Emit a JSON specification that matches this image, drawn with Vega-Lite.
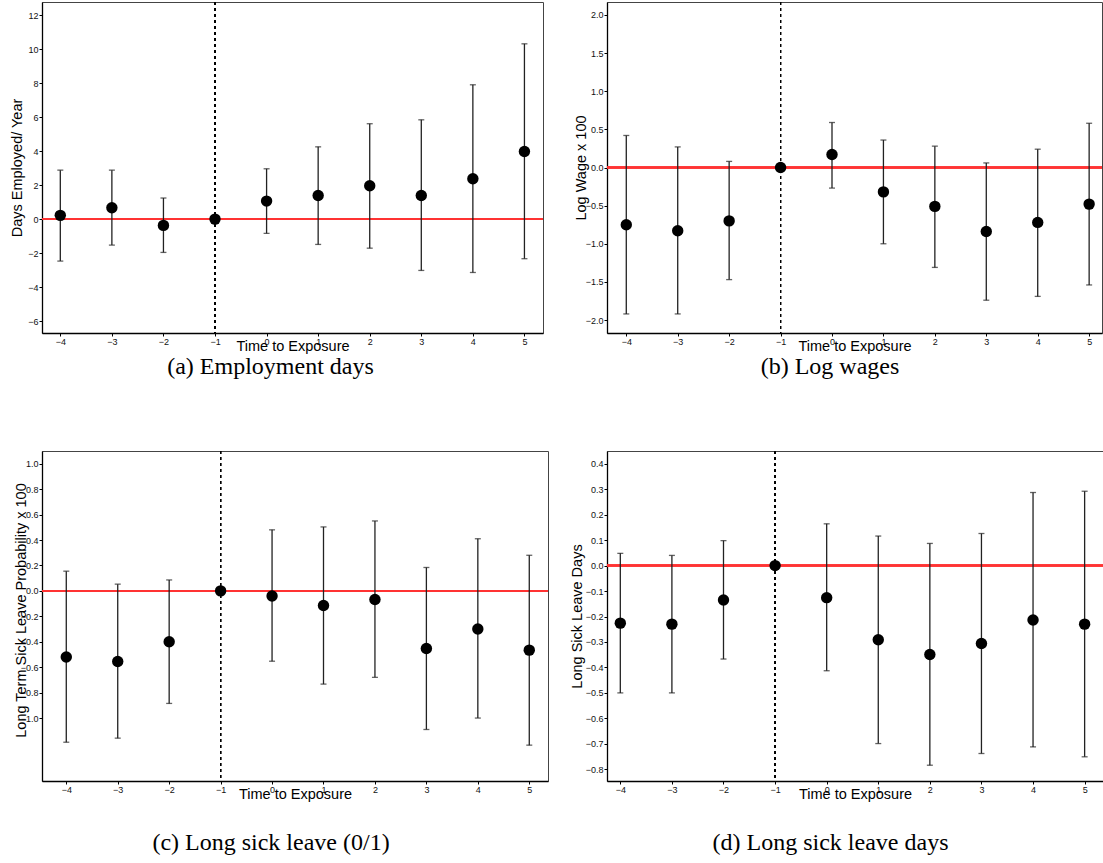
{
  "$schema": "https://vega.github.io/schema/vega-lite/v6.json",
  "padding": {"left": 8, "top": 1, "right": 0, "bottom": 0},
  "background": "white",
  "datasets": {
    "est": [
      {"panel": "a", "t": -4, "est": 0.22, "lo": -2.47, "hi": 2.88},
      {"panel": "a", "t": -3, "est": 0.67, "lo": -1.53, "hi": 2.88},
      {"panel": "a", "t": -2, "est": -0.37, "lo": -1.96, "hi": 1.24},
      {"panel": "a", "t": -1, "est": 0, "lo": 0, "hi": 0},
      {"panel": "a", "t": 0, "est": 1.06, "lo": -0.84, "hi": 2.96},
      {"panel": "a", "t": 1, "est": 1.39, "lo": -1.49, "hi": 4.25},
      {"panel": "a", "t": 2, "est": 1.96, "lo": -1.71, "hi": 5.61},
      {"panel": "a", "t": 3, "est": 1.39, "lo": -3.02, "hi": 5.84},
      {"panel": "a", "t": 4, "est": 2.37, "lo": -3.14, "hi": 7.9},
      {"panel": "a", "t": 5, "est": 3.98, "lo": -2.33, "hi": 10.31},
      {"panel": "b", "t": -4, "est": -0.75, "lo": -1.92, "hi": 0.42},
      {"panel": "b", "t": -3, "est": -0.83, "lo": -1.92, "hi": 0.27},
      {"panel": "b", "t": -2, "est": -0.7, "lo": -1.47, "hi": 0.08},
      {"panel": "b", "t": -1, "est": 0, "lo": 0, "hi": 0},
      {"panel": "b", "t": 0, "est": 0.17, "lo": -0.27, "hi": 0.59},
      {"panel": "b", "t": 1, "est": -0.32, "lo": -1.0, "hi": 0.36},
      {"panel": "b", "t": 2, "est": -0.51, "lo": -1.31, "hi": 0.28},
      {"panel": "b", "t": 3, "est": -0.84, "lo": -1.74, "hi": 0.06},
      {"panel": "b", "t": 4, "est": -0.72, "lo": -1.69, "hi": 0.24},
      {"panel": "b", "t": 5, "est": -0.48, "lo": -1.54, "hi": 0.58},
      {"panel": "c", "t": -4, "est": -0.52, "lo": -1.19, "hi": 0.155},
      {"panel": "c", "t": -3, "est": -0.555, "lo": -1.158, "hi": 0.053},
      {"panel": "c", "t": -2, "est": -0.4, "lo": -0.885, "hi": 0.086},
      {"panel": "c", "t": -1, "est": 0, "lo": 0, "hi": 0},
      {"panel": "c", "t": 0, "est": -0.04, "lo": -0.553, "hi": 0.48},
      {"panel": "c", "t": 1, "est": -0.115, "lo": -0.733, "hi": 0.503},
      {"panel": "c", "t": 2, "est": -0.068, "lo": -0.68, "hi": 0.55},
      {"panel": "c", "t": 3, "est": -0.453, "lo": -1.09, "hi": 0.184},
      {"panel": "c", "t": 4, "est": -0.3, "lo": -1.0, "hi": 0.41},
      {"panel": "c", "t": 5, "est": -0.466, "lo": -1.213, "hi": 0.28},
      {"panel": "d", "t": -4, "est": -0.226, "lo": -0.5, "hi": 0.048},
      {"panel": "d", "t": -3, "est": -0.23, "lo": -0.5, "hi": 0.04},
      {"panel": "d", "t": -2, "est": -0.135, "lo": -0.367, "hi": 0.098},
      {"panel": "d", "t": -1, "est": 0, "lo": 0, "hi": 0},
      {"panel": "d", "t": 0, "est": -0.126, "lo": -0.413, "hi": 0.164},
      {"panel": "d", "t": 1, "est": -0.291, "lo": -0.699, "hi": 0.116},
      {"panel": "d", "t": 2, "est": -0.349, "lo": -0.784, "hi": 0.087},
      {"panel": "d", "t": 3, "est": -0.306, "lo": -0.738, "hi": 0.126},
      {"panel": "d", "t": 4, "est": -0.214, "lo": -0.712, "hi": 0.287},
      {"panel": "d", "t": 5, "est": -0.23, "lo": -0.751, "hi": 0.292}
    ]
  },
  "columns": 2,
  "bounds": "flush",
  "spacing": {"row": 118, "column": 59},
  "concat": [
    {
      "width": 501, "height": 331,
      "title": {"text": "(a) Employment days", "dx": -22, "offset": 2},
      "data": {"name": "est"},
      "transform": [{"filter": "datum.panel == 'a'"}],
      "layer": [
        {"mark": {"type": "rule", "color": "#ff3333", "strokeWidth": 1.5},
         "encoding": {"y": {"datum": 0, "type": "quantitative", "scale": {"domain": [-6.7, 12.77], "nice": false, "zero": false}, "axis": {"values": [-6, -4, -2, 0, 2, 4, 6, 8, 10, 12], "format": "d", "title": "Days Employed/ Year", "titleX": -18}}}},
        {"mark": {"type": "rule", "color": "#000", "strokeWidth": 0.9, "strokeDash": [3, 3]},
         "encoding": {"x": {"datum": -1, "type": "quantitative", "scale": {"domain": [-4.355, 5.36], "nice": false, "zero": false}, "axis": {"values": [-4, -3, -2, -1, 0, 1, 2, 3, 4, 5], "format": "d", "title": "Time to Exposure", "titleY": 17.5, "titleBaseline": "alphabetic"}}}},
        {"mark": {"type": "rule", "color": "#222", "strokeWidth": 1.3},
         "encoding": {
           "x": {"field": "t", "type": "quantitative", "scale": {"domain": [-4.355, 5.36], "nice": false, "zero": false}, "axis": {"values": [-4, -3, -2, -1, 0, 1, 2, 3, 4, 5], "format": "d", "title": "Time to Exposure", "titleY": 17.5, "titleBaseline": "alphabetic"}},
           "y": {"field": "lo", "type": "quantitative", "scale": {"domain": [-6.7, 12.77], "nice": false, "zero": false}, "axis": {"values": [-6, -4, -2, 0, 2, 4, 6, 8, 10, 12], "format": "d", "title": "Days Employed/ Year", "titleX": -18}},
           "y2": {"field": "hi"}}},
        {"mark": {"type": "tick", "orient": "horizontal", "color": "#222", "size": 6, "thickness": 1.3},
         "encoding": {
           "x": {"field": "t", "type": "quantitative", "scale": {"domain": [-4.355, 5.36], "nice": false, "zero": false}, "axis": {"values": [-4, -3, -2, -1, 0, 1, 2, 3, 4, 5], "format": "d", "title": "Time to Exposure", "titleY": 17.5, "titleBaseline": "alphabetic"}},
           "y": {"field": "lo", "type": "quantitative", "scale": {"domain": [-6.7, 12.77], "nice": false, "zero": false}, "axis": {"values": [-6, -4, -2, 0, 2, 4, 6, 8, 10, 12], "format": "d", "title": "Days Employed/ Year", "titleX": -18}}}},
        {"mark": {"type": "tick", "orient": "horizontal", "color": "#222", "size": 6, "thickness": 1.3},
         "encoding": {
           "x": {"field": "t", "type": "quantitative", "scale": {"domain": [-4.355, 5.36], "nice": false, "zero": false}, "axis": {"values": [-4, -3, -2, -1, 0, 1, 2, 3, 4, 5], "format": "d", "title": "Time to Exposure", "titleY": 17.5, "titleBaseline": "alphabetic"}},
           "y": {"field": "hi", "type": "quantitative", "scale": {"domain": [-6.7, 12.77], "nice": false, "zero": false}, "axis": {"values": [-6, -4, -2, 0, 2, 4, 6, 8, 10, 12], "format": "d", "title": "Days Employed/ Year", "titleX": -18}}}},
        {"mark": {"type": "circle", "color": "#000", "opacity": 1, "size": 130},
         "encoding": {
           "x": {"field": "t", "type": "quantitative", "scale": {"domain": [-4.355, 5.36], "nice": false, "zero": false}, "axis": {"values": [-4, -3, -2, -1, 0, 1, 2, 3, 4, 5], "format": "d", "title": "Time to Exposure", "titleY": 17.5, "titleBaseline": "alphabetic"}},
           "y": {"field": "est", "type": "quantitative", "scale": {"domain": [-6.7, 12.77], "nice": false, "zero": false}, "axis": {"values": [-6, -4, -2, 0, 2, 4, 6, 8, 10, 12], "format": "d", "title": "Days Employed/ Year", "titleX": -18}}}}
      ]
    },
    {
      "width": 495, "height": 331,
      "title": {"text": "(b) Log wages", "dx": -24.5, "offset": 2},
      "data": {"name": "est"},
      "transform": [{"filter": "datum.panel == 'b'"}],
      "layer": [
        {"mark": {"type": "rule", "color": "#ff3333", "strokeWidth": 1.5},
         "encoding": {"y": {"datum": 0, "type": "quantitative", "scale": {"domain": [-2.17, 2.17], "nice": false, "zero": false}, "axis": {"values": [-2, -1.5, -1, -0.5, 0, 0.5, 1, 1.5, 2], "format": ".1f", "title": "Log Wage x 100", "titleX": -19}}}},
        {"mark": {"type": "rule", "color": "#000", "strokeWidth": 0.9, "strokeDash": [3, 3]},
         "encoding": {"x": {"datum": -1, "type": "quantitative", "scale": {"domain": [-4.375, 5.25], "nice": false, "zero": false}, "axis": {"values": [-4, -3, -2, -1, 0, 1, 2, 3, 4, 5], "format": "d", "title": "Time to Exposure", "titleY": 17.5, "titleBaseline": "alphabetic"}}}},
        {"mark": {"type": "rule", "color": "#222", "strokeWidth": 1.3},
         "encoding": {
           "x": {"field": "t", "type": "quantitative", "scale": {"domain": [-4.375, 5.25], "nice": false, "zero": false}, "axis": {"values": [-4, -3, -2, -1, 0, 1, 2, 3, 4, 5], "format": "d", "title": "Time to Exposure", "titleY": 17.5, "titleBaseline": "alphabetic"}},
           "y": {"field": "lo", "type": "quantitative", "scale": {"domain": [-2.17, 2.17], "nice": false, "zero": false}, "axis": {"values": [-2, -1.5, -1, -0.5, 0, 0.5, 1, 1.5, 2], "format": ".1f", "title": "Log Wage x 100", "titleX": -19}},
           "y2": {"field": "hi"}}},
        {"mark": {"type": "tick", "orient": "horizontal", "color": "#222", "size": 6, "thickness": 1.3},
         "encoding": {
           "x": {"field": "t", "type": "quantitative", "scale": {"domain": [-4.375, 5.25], "nice": false, "zero": false}, "axis": {"values": [-4, -3, -2, -1, 0, 1, 2, 3, 4, 5], "format": "d", "title": "Time to Exposure", "titleY": 17.5, "titleBaseline": "alphabetic"}},
           "y": {"field": "lo", "type": "quantitative", "scale": {"domain": [-2.17, 2.17], "nice": false, "zero": false}, "axis": {"values": [-2, -1.5, -1, -0.5, 0, 0.5, 1, 1.5, 2], "format": ".1f", "title": "Log Wage x 100", "titleX": -19}}}},
        {"mark": {"type": "tick", "orient": "horizontal", "color": "#222", "size": 6, "thickness": 1.3},
         "encoding": {
           "x": {"field": "t", "type": "quantitative", "scale": {"domain": [-4.375, 5.25], "nice": false, "zero": false}, "axis": {"values": [-4, -3, -2, -1, 0, 1, 2, 3, 4, 5], "format": "d", "title": "Time to Exposure", "titleY": 17.5, "titleBaseline": "alphabetic"}},
           "y": {"field": "hi", "type": "quantitative", "scale": {"domain": [-2.17, 2.17], "nice": false, "zero": false}, "axis": {"values": [-2, -1.5, -1, -0.5, 0, 0.5, 1, 1.5, 2], "format": ".1f", "title": "Log Wage x 100", "titleX": -19}}}},
        {"mark": {"type": "circle", "color": "#000", "opacity": 1, "size": 130},
         "encoding": {
           "x": {"field": "t", "type": "quantitative", "scale": {"domain": [-4.375, 5.25], "nice": false, "zero": false}, "axis": {"values": [-4, -3, -2, -1, 0, 1, 2, 3, 4, 5], "format": "d", "title": "Time to Exposure", "titleY": 17.5, "titleBaseline": "alphabetic"}},
           "y": {"field": "est", "type": "quantitative", "scale": {"domain": [-2.17, 2.17], "nice": false, "zero": false}, "axis": {"values": [-2, -1.5, -1, -0.5, 0, 0.5, 1, 1.5, 2], "format": ".1f", "title": "Log Wage x 100", "titleX": -19}}}}
      ]
    },
    {
      "width": 506, "height": 330,
      "title": {"text": "(c) Long sick leave (0/1)", "dx": -24, "offset": 30},
      "data": {"name": "est"},
      "transform": [{"filter": "datum.panel == 'c'"}],
      "layer": [
        {"mark": {"type": "rule", "color": "#ff3333", "strokeWidth": 1.5},
         "encoding": {"y": {"datum": 0, "type": "quantitative", "scale": {"domain": [-1.495, 1.1], "nice": false, "zero": false}, "axis": {"values": [-1, -0.8, -0.6, -0.4, -0.2, 0, 0.2, 0.4, 0.6, 0.8, 1], "format": ".1f", "title": "Long Term Sick Leave Probability x 100", "titleX": -14, "titleY": 159}}}},
        {"mark": {"type": "rule", "color": "#000", "strokeWidth": 0.9, "strokeDash": [3, 3]},
         "encoding": {"x": {"datum": -1, "type": "quantitative", "scale": {"domain": [-4.472, 5.364], "nice": false, "zero": false}, "axis": {"values": [-4, -3, -2, -1, 0, 1, 2, 3, 4, 5], "format": "d", "title": "Time to Exposure", "titleY": 17.5, "titleBaseline": "alphabetic"}}}},
        {"mark": {"type": "rule", "color": "#222", "strokeWidth": 1.3},
         "encoding": {
           "x": {"field": "t", "type": "quantitative", "scale": {"domain": [-4.472, 5.364], "nice": false, "zero": false}, "axis": {"values": [-4, -3, -2, -1, 0, 1, 2, 3, 4, 5], "format": "d", "title": "Time to Exposure", "titleY": 17.5, "titleBaseline": "alphabetic"}},
           "y": {"field": "lo", "type": "quantitative", "scale": {"domain": [-1.495, 1.1], "nice": false, "zero": false}, "axis": {"values": [-1, -0.8, -0.6, -0.4, -0.2, 0, 0.2, 0.4, 0.6, 0.8, 1], "format": ".1f", "title": "Long Term Sick Leave Probability x 100", "titleX": -14, "titleY": 159}},
           "y2": {"field": "hi"}}},
        {"mark": {"type": "tick", "orient": "horizontal", "color": "#222", "size": 6, "thickness": 1.3},
         "encoding": {
           "x": {"field": "t", "type": "quantitative", "scale": {"domain": [-4.472, 5.364], "nice": false, "zero": false}, "axis": {"values": [-4, -3, -2, -1, 0, 1, 2, 3, 4, 5], "format": "d", "title": "Time to Exposure", "titleY": 17.5, "titleBaseline": "alphabetic"}},
           "y": {"field": "lo", "type": "quantitative", "scale": {"domain": [-1.495, 1.1], "nice": false, "zero": false}, "axis": {"values": [-1, -0.8, -0.6, -0.4, -0.2, 0, 0.2, 0.4, 0.6, 0.8, 1], "format": ".1f", "title": "Long Term Sick Leave Probability x 100", "titleX": -14, "titleY": 159}}}},
        {"mark": {"type": "tick", "orient": "horizontal", "color": "#222", "size": 6, "thickness": 1.3},
         "encoding": {
           "x": {"field": "t", "type": "quantitative", "scale": {"domain": [-4.472, 5.364], "nice": false, "zero": false}, "axis": {"values": [-4, -3, -2, -1, 0, 1, 2, 3, 4, 5], "format": "d", "title": "Time to Exposure", "titleY": 17.5, "titleBaseline": "alphabetic"}},
           "y": {"field": "hi", "type": "quantitative", "scale": {"domain": [-1.495, 1.1], "nice": false, "zero": false}, "axis": {"values": [-1, -0.8, -0.6, -0.4, -0.2, 0, 0.2, 0.4, 0.6, 0.8, 1], "format": ".1f", "title": "Long Term Sick Leave Probability x 100", "titleX": -14, "titleY": 159}}}},
        {"mark": {"type": "circle", "color": "#000", "opacity": 1, "size": 130},
         "encoding": {
           "x": {"field": "t", "type": "quantitative", "scale": {"domain": [-4.472, 5.364], "nice": false, "zero": false}, "axis": {"values": [-4, -3, -2, -1, 0, 1, 2, 3, 4, 5], "format": "d", "title": "Time to Exposure", "titleY": 17.5, "titleBaseline": "alphabetic"}},
           "y": {"field": "est", "type": "quantitative", "scale": {"domain": [-1.495, 1.1], "nice": false, "zero": false}, "axis": {"values": [-1, -0.8, -0.6, -0.4, -0.2, 0, 0.2, 0.4, 0.6, 0.8, 1], "format": ".1f", "title": "Long Term Sick Leave Probability x 100", "titleX": -14, "titleY": 159}}}}
      ]
    },
    {
      "width": 496, "height": 330,
      "title": {"text": "(d) Long sick leave days", "dx": -24.5, "offset": 30},
      "data": {"name": "est"},
      "transform": [{"filter": "datum.panel == 'd'"}],
      "layer": [
        {"mark": {"type": "rule", "color": "#ff3333", "strokeWidth": 1.5},
         "encoding": {"y": {"datum": 0, "type": "quantitative", "scale": {"domain": [-0.846, 0.45], "nice": false, "zero": false}, "axis": {"values": [-0.8, -0.7, -0.6, -0.5, -0.4, -0.3, -0.2, -0.1, 0, 0.1, 0.2, 0.3, 0.4], "format": ".1f", "title": "Long Sick Leave Days", "titleX": -23}}}},
        {"mark": {"type": "rule", "color": "#000", "strokeWidth": 0.9, "strokeDash": [3, 3]},
         "encoding": {"x": {"datum": -1, "type": "quantitative", "scale": {"domain": [-4.258, 5.356], "nice": false, "zero": false}, "axis": {"values": [-4, -3, -2, -1, 0, 1, 2, 3, 4, 5], "format": "d", "title": "Time to Exposure", "titleY": 17.5, "titleBaseline": "alphabetic"}}}},
        {"mark": {"type": "rule", "color": "#222", "strokeWidth": 1.3},
         "encoding": {
           "x": {"field": "t", "type": "quantitative", "scale": {"domain": [-4.258, 5.356], "nice": false, "zero": false}, "axis": {"values": [-4, -3, -2, -1, 0, 1, 2, 3, 4, 5], "format": "d", "title": "Time to Exposure", "titleY": 17.5, "titleBaseline": "alphabetic"}},
           "y": {"field": "lo", "type": "quantitative", "scale": {"domain": [-0.846, 0.45], "nice": false, "zero": false}, "axis": {"values": [-0.8, -0.7, -0.6, -0.5, -0.4, -0.3, -0.2, -0.1, 0, 0.1, 0.2, 0.3, 0.4], "format": ".1f", "title": "Long Sick Leave Days", "titleX": -23}},
           "y2": {"field": "hi"}}},
        {"mark": {"type": "tick", "orient": "horizontal", "color": "#222", "size": 6, "thickness": 1.3},
         "encoding": {
           "x": {"field": "t", "type": "quantitative", "scale": {"domain": [-4.258, 5.356], "nice": false, "zero": false}, "axis": {"values": [-4, -3, -2, -1, 0, 1, 2, 3, 4, 5], "format": "d", "title": "Time to Exposure", "titleY": 17.5, "titleBaseline": "alphabetic"}},
           "y": {"field": "lo", "type": "quantitative", "scale": {"domain": [-0.846, 0.45], "nice": false, "zero": false}, "axis": {"values": [-0.8, -0.7, -0.6, -0.5, -0.4, -0.3, -0.2, -0.1, 0, 0.1, 0.2, 0.3, 0.4], "format": ".1f", "title": "Long Sick Leave Days", "titleX": -23}}}},
        {"mark": {"type": "tick", "orient": "horizontal", "color": "#222", "size": 6, "thickness": 1.3},
         "encoding": {
           "x": {"field": "t", "type": "quantitative", "scale": {"domain": [-4.258, 5.356], "nice": false, "zero": false}, "axis": {"values": [-4, -3, -2, -1, 0, 1, 2, 3, 4, 5], "format": "d", "title": "Time to Exposure", "titleY": 17.5, "titleBaseline": "alphabetic"}},
           "y": {"field": "hi", "type": "quantitative", "scale": {"domain": [-0.846, 0.45], "nice": false, "zero": false}, "axis": {"values": [-0.8, -0.7, -0.6, -0.5, -0.4, -0.3, -0.2, -0.1, 0, 0.1, 0.2, 0.3, 0.4], "format": ".1f", "title": "Long Sick Leave Days", "titleX": -23}}}},
        {"mark": {"type": "circle", "color": "#000", "opacity": 1, "size": 130},
         "encoding": {
           "x": {"field": "t", "type": "quantitative", "scale": {"domain": [-4.258, 5.356], "nice": false, "zero": false}, "axis": {"values": [-4, -3, -2, -1, 0, 1, 2, 3, 4, 5], "format": "d", "title": "Time to Exposure", "titleY": 17.5, "titleBaseline": "alphabetic"}},
           "y": {"field": "est", "type": "quantitative", "scale": {"domain": [-0.846, 0.45], "nice": false, "zero": false}, "axis": {"values": [-0.8, -0.7, -0.6, -0.5, -0.4, -0.3, -0.2, -0.1, 0, 0.1, 0.2, 0.3, 0.4], "format": ".1f", "title": "Long Sick Leave Days", "titleX": -23}}}}
      ]
    }
  ],
  "config": {
    "view": {"stroke": "#444", "strokeWidth": 1},
    "axis": {
      "grid": false,
      "domainColor": "#000",
      "domainWidth": 1.3,
      "tickColor": "#000",
      "tickSize": 3,
      "labelFont": "Liberation Sans",
      "labelFontSize": 9,
      "labelColor": "#111",
      "labelPadding": 1,
      "titleFont": "Liberation Sans",
      "titleFontSize": 14.5,
      "titleFontWeight": "normal",
      "titleColor": "#000"
    },
    "title": {
      "font": "Liberation Serif",
      "fontSize": 24,
      "fontWeight": "normal",
      "orient": "bottom",
      "color": "#000"
    }
  }
}
